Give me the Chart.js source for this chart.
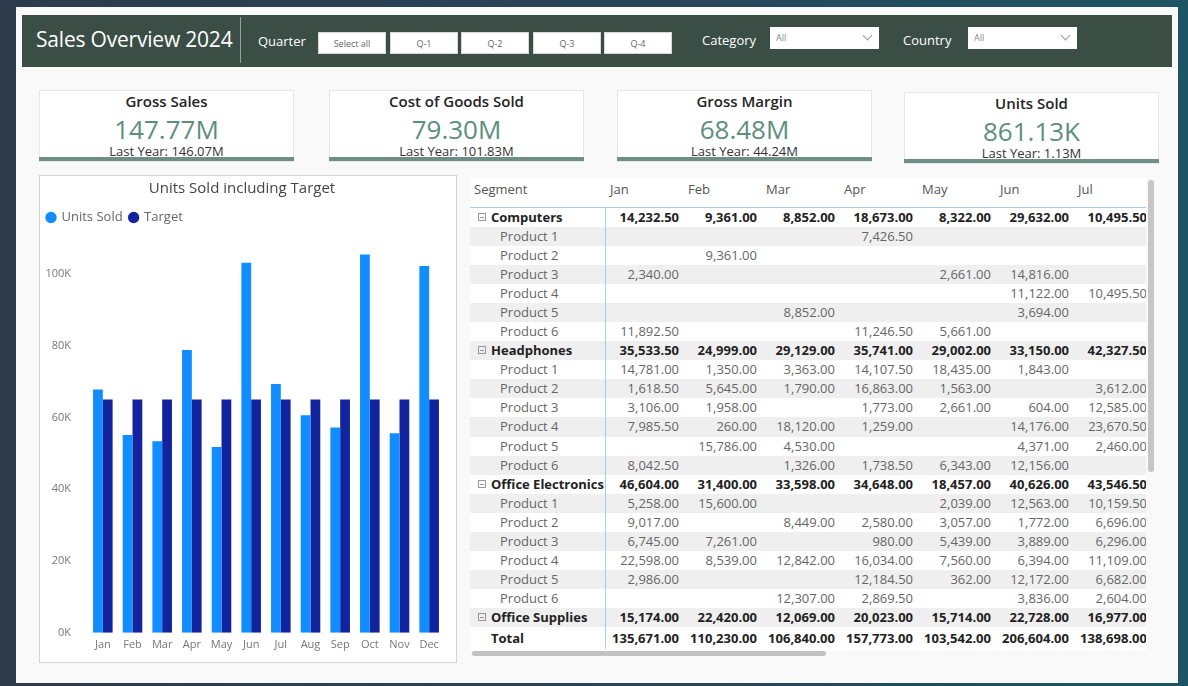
<!DOCTYPE html>
<html>
<head>
<meta charset="utf-8">
<script src="https://cdn.jsdelivr.net/npm/chart.js@4/dist/chart.umd.min.js"></script>
<style>
  * { box-sizing: border-box; }
  body { margin: 0; width: 1188px; height: 686px; overflow: hidden; position: relative;
    font-family: 'Segoe UI', 'Open Sans', sans-serif;
    background: linear-gradient(90deg, #2c3a4c 0%, #27465a 60%, #1d5565 100%); }
  #report { position: absolute; left: 16px; top: 7px; width: 1162px; height: 676px; background: #f9f9f9; }
  #header { position: absolute; left: 22px; top: 15px; width: 1150px; height: 52px; background: #3a4e46; color: #fff; }
  #header .title { position: absolute; left: 14px; top: 10px; font-size: 21px; letter-spacing: -0.2px; }
  #header .sep { position: absolute; left: 218px; top: 2px; width: 1px; height: 46px; background: #8fa39b; }
  #header .lbl { position: absolute; font-size: 13px; top: 16px; }
  .btn { position: absolute; top: 17px; height: 22px; width: 68px; background: #fff; color: #666; font-size: 9px;
    text-align: center; line-height: 22px; border: 1px solid #d8d8d8; }
  .dd { position: absolute; top: 12px; height: 22px; width: 109px; background: #fff; color: #888; font-size: 9px;
    line-height: 22px; padding-left: 6px; }
  .dd .chev { position: absolute; right: 8px; top: 5px; width: 7px; height: 7px; border-right: 1px solid #999;
    border-bottom: 1px solid #999; transform: rotate(45deg); }
  .kpi { position: absolute; width: 255px; height: 72px; background: #fff; border: 1px solid #e6e6e6; text-align: center; }
  .kpi .t { position: absolute; left: 0; right: 0; top: 0; font-size: 15px; color: #252423; font-weight: 600; }
  .kpi .v { position: absolute; left: 0; right: 0; top: 20px; font-size: 26px; color: #5e8e7e; }
  .kpi .ly { position: absolute; left: 0; right: 0; top: 51px; font-size: 13px; color: #333; }
  .kpi .bar { position: absolute; left: -1px; right: -1px; bottom: 0; height: 4px; background: #6f8f86; }
  #chartCard { position: absolute; left: 39px; top: 175px; width: 418px; height: 488px; background: #fff; border: 1px solid #d4d4d4; }
  #tableWrap { position: absolute; left: 470px; top: 178px; width: 676px; height: 473px; overflow: hidden; background: #fff; }
  table { border-collapse: collapse; table-layout: fixed; font-size: 13px; width: 681px; }
  td, th { white-space: nowrap; overflow: hidden; padding: 0; }
  th { height: 29px; font-weight: normal; color: #555; text-align: left; padding-left: 5px; padding-bottom: 6px; border-bottom: 1px solid #a9cbe6; }
  th.seg { padding-left: 4px; }
  td { height: 19.1px; line-height: 19px; text-align: right; padding-right: 4px; color: #666; }
  td.seg { text-align: left; padding-left: 30px; border-right: 1px solid #a9cbe6; }
  tr.band td { background: #efefef; }
  tr.grp td { color: #222; font-weight: 700; }
  tr.grp td.seg { padding-left: 8px; }
  tr.tot td { color: #222; font-weight: 700; height: 22px; }
  tr.tot td.seg { padding-left: 21px; }
  .box { display: inline-block; width: 8px; height: 8px; border: 1px solid #999; margin-right: 5px; position: relative; top: -1px; }
  .box:after { content: ''; position: absolute; left: 1px; right: 1px; top: 3px; height: 1px; background: #999; }
  .vscroll { position: absolute; left: 1148px; top: 180px; width: 6px; height: 292px; background: #c6c6c6; border-radius: 3px; }
  .hscroll { position: absolute; left: 472px; top: 651px; width: 354px; height: 5px; background: #c2c2c2; border-radius: 3px; }
</style>
</head>
<body>
<div id="report"></div>
<div id="header">
  <div class="title">Sales Overview 2024</div>
  <div class="sep"></div>
  <div class="lbl" style="left:236px;top:17px">Quarter</div>
  <div class="btn" style="left:296px">Select all</div>
  <div class="btn" style="left:368px">Q-1</div>
  <div class="btn" style="left:439px">Q-2</div>
  <div class="btn" style="left:511px">Q-3</div>
  <div class="btn" style="left:582px">Q-4</div>
  <div class="lbl" style="left:680px">Category</div>
  <div class="dd" style="left:748px">All<div class="chev"></div></div>
  <div class="lbl" style="left:881px">Country</div>
  <div class="dd" style="left:946px">All<div class="chev"></div></div>
</div>

<div id="kpis"></div>

<div id="chartCard">
  <canvas id="grafico" width="416" height="486"></canvas>
</div>

<div id="tableWrap"><table id="tabla"></table></div>
<div class="vscroll"></div>
<div class="hscroll"></div>

<script>
// datos del gráfico
const months = ['Jan', 'Feb', 'Mar', 'Apr', 'May', 'Jun', 'Jul', 'Aug', 'Sep', 'Oct', 'Nov', 'Dec'];
const unitsSold = [67800, 55100, 53400, 78800, 51800, 103100, 69300, 60600, 57200, 105400, 55600, 102200];
const target = [65000, 65000, 65000, 65000, 65000, 65000, 65000, 65000, 65000, 65000, 65000, 65000];
const yTicks = [0, 20000, 40000, 60000, 80000, 100000];

// tarjetas KPI
const kpiTitles = ['Gross Sales', 'Cost of Goods Sold', 'Gross Margin', 'Units Sold'];
const kpiValues = ['147.77M', '79.30M', '68.48M', '861.13K'];
const kpiLastYear = ['146.07M', '101.83M', '44.24M', '1.13M'];
const kpiLeft = [39, 329, 617, 904];
const kpiTop = [90, 90, 90, 92];

// tabla (columnas visibles Jan - Jul)
const tableMonths = ['Jan', 'Feb', 'Mar', 'Apr', 'May', 'Jun', 'Jul'];
const segments = ['Computers', 'Headphones', 'Office Electronics'];
const segmentTotals = [
  [14232.5, 9361, 8852, 18673, 8322, 29632, 10495.5],
  [35533.5, 24999, 29129, 35741, 29002, 33150, 42327.5],
  [46604, 31400, 33598, 34648, 18457, 40626, 43546.5]
];
const productRows = [
  [
    [null, null, null, 7426.5, null, null, null],
    [null, 9361, null, null, null, null, null],
    [2340, null, null, null, 2661, 14816, null],
    [null, null, null, null, null, 11122, 10495.5],
    [null, null, 8852, null, null, 3694, null],
    [11892.5, null, null, 11246.5, 5661, null, null]
  ],
  [
    [14781, 1350, 3363, 14107.5, 18435, 1843, null],
    [1618.5, 5645, 1790, 16863, 1563, null, 3612],
    [3106, 1958, null, 1773, 2661, 604, 12585],
    [7985.5, 260, 18120, 1259, null, 14176, 23670.5],
    [null, 15786, 4530, null, null, 4371, 2460],
    [8042.5, null, 1326, 1738.5, 6343, 12156, null]
  ],
  [
    [5258, 15600, null, null, 2039, 12563, 10159.5],
    [9017, null, 8449, 2580, 3057, 1772, 6696],
    [6745, 7261, null, 980, 5439, 3889, 6296],
    [22598, 8539, 12842, 16034, 7560, 6394, 11109],
    [2986, null, null, 12184.5, 362, 12172, 6682],
    [null, null, 12307, 2869.5, null, 3836, 2604]
  ]
];
const officeSupplies = [15174, 22420, 12069, 20023, 15714, 22728, 16977];
const totals = [135671, 110230, 106840, 157773, 103542, 206604, 138698];

window.addEventListener('DOMContentLoaded', function () {
    //Tarjetas
    let kpis = document.getElementById("kpis");
    kpiTitles.forEach(function (t, i) {
        kpis.innerHTML += `
        <div class="kpi" style="left:${kpiLeft[i]}px;top:${kpiTop[i]}px">
            <div class="t">${t}</div>
            <div class="v">${kpiValues[i]}</div>
            <div class="ly">Last Year: ${kpiLastYear[i]}</div>
            <div class="bar"></div>
        </div>`;
    });

    //Tabla
    const fmt = v => v === null ? '' : v.toLocaleString('en-US', { minimumFractionDigits: 2, maximumFractionDigits: 2 });
    let html = '<colgroup><col style="width:135px">' + tableMonths.map(() => '<col style="width:78px">').join('') + '</colgroup>';
    html += '<tr><th class="seg">Segment</th>' + tableMonths.map(m => `<th>${m}</th>`).join('') + '</tr>';
    let idx = 0;
    const row = (cls, label, vals) => {
        let band = idx % 2 === 1 ? ' band' : '';
        idx++;
        return `<tr class="${cls}${band}"><td class="seg">${label}</td>` + vals.map(v => `<td>${fmt(v)}</td>`).join('') + '</tr>';
    };
    segments.forEach(function (s, i) {
        html += row('grp', '<span class="box"></span>' + s, segmentTotals[i]);
        productRows[i].forEach(function (p, j) {
            html += row('prod', 'Product ' + (j + 1), p);
        });
    });
    html += row('grp', '<span class="box"></span>Office Supplies', officeSupplies);
    html += row('tot', 'Total', totals);
    document.getElementById("tabla").innerHTML = html;

    //Gráfico
    const fuente = "'Segoe UI', 'Open Sans', sans-serif";
    // margen extra debajo de la leyenda
    const margenLeyenda = {
        id: 'margenLeyenda',
        beforeInit(chart) {
            const fitOriginal = chart.legend.fit;
            chart.legend.fit = function () {
                fitOriginal.bind(chart.legend)();
                this.height += 4;
            };
        }
    };
    const ctx = document.getElementById('grafico').getContext('2d');
    new Chart(ctx, {
        type: 'bar',
        data: {
            labels: months,
            datasets: [
                { label: 'Units Sold', data: unitsSold, backgroundColor: '#118DFF', categoryPercentage: 0.66, barPercentage: 1 },
                { label: 'Target', data: target, backgroundColor: '#12239E', categoryPercentage: 0.66, barPercentage: 1 }
            ]
        },
        plugins: [margenLeyenda],
        options: {
            responsive: false,
            animation: false,
            devicePixelRatio: 1,
            layout: { padding: { left: 0, right: 12, top: 0, bottom: 6 } },
            plugins: {
                title: {
                    display: true, text: 'Units Sold including Target', color: '#444',
                    font: { size: 15, family: fuente, weight: 'normal' }, padding: { top: 4, bottom: 6 }
                },
                legend: {
                    align: 'start',
                    labels: {
                        usePointStyle: true, pointStyle: 'circle', boxWidth: 8, boxHeight: 8, padding: 7,
                        color: '#666', font: { size: 13, family: fuente }
                    }
                },
                tooltip: { enabled: false }
            },
            scales: {
                x: {
                    grid: { display: false, drawTicks: false }, border: { display: false },
                    ticks: { color: '#777', font: { size: 11, family: fuente }, padding: 5 }
                },
                y: {
                    min: 0, max: 110000,
                    grid: { display: false, drawTicks: false }, border: { display: false },
                    afterFit: function (scale) { scale.width = 48; },
                    afterBuildTicks: function (scale) { scale.ticks = yTicks.map(v => ({ value: v })); },
                    ticks: {
                        color: '#777', font: { size: 11, family: fuente }, padding: 17,
                        callback: v => (v / 1000) + 'K'
                    }
                }
            }
        }
    });
});
</script>
</body>
</html>
